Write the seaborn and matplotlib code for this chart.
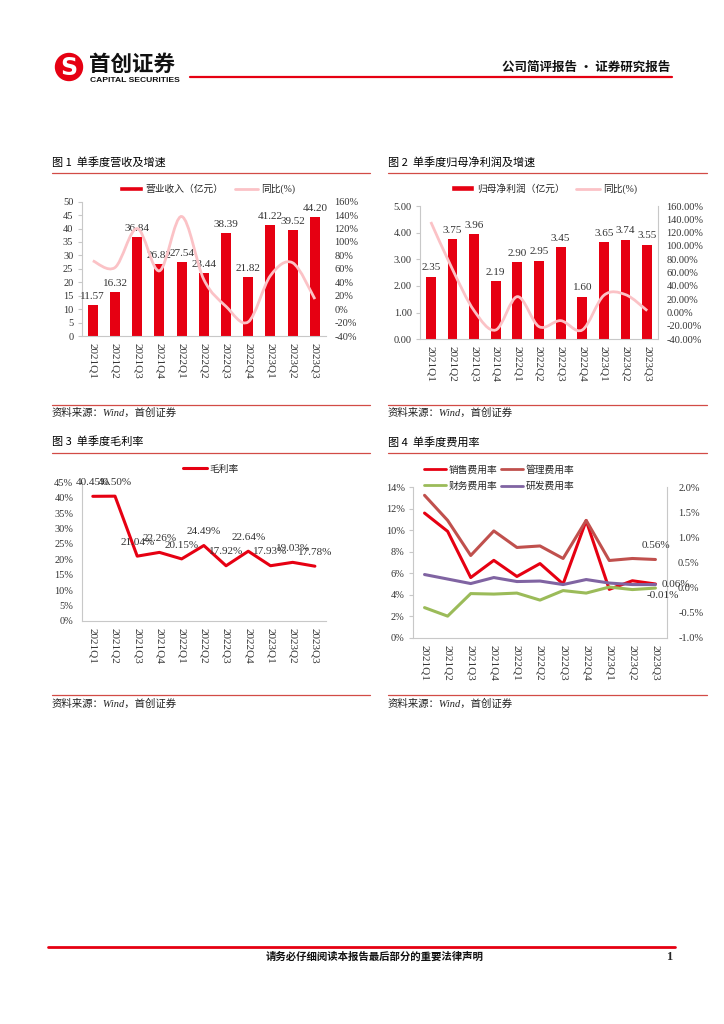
import numpy as np
import pandas as pd
import seaborn as sns
import matplotlib.pyplot as plt
from matplotlib.lines import Line2D
from matplotlib.patches import Patch, Circle, PathPatch
from matplotlib.path import Path
from matplotlib.ticker import FuncFormatter, MultipleLocator, FixedLocator

# --- data ---
quarters = ['2021Q1', '2021Q2', '2021Q3', '2021Q4', '2022Q1', '2022Q2',
            '2022Q3', '2022Q4', '2023Q1', '2023Q2', '2023Q3']

revenue = [11.57, 16.32, 36.84, 26.82, 27.54, 23.44, 38.39, 21.82, 41.22, 39.52, 44.20]
revenue_yoy = [72, 62, 120, 57, 138, 44, 4, -19, 50, 69, 15]

profit = [2.35, 3.75, 3.96, 2.19, 2.90, 2.95, 3.45, 1.60, 3.65, 3.74, 3.55]
profit_yoy = [136, 65, 3, -26, 24, -21, -12, -26, 26, 27, 3]

gross_margin = [40.45, 40.50, 21.04, 22.26, 20.15, 24.49, 17.92, 22.64, 17.93, 19.03, 17.78]

# left axis (%)
sales_rate = [11.6, 9.9, 5.6, 7.2, 5.7, 6.9, 5.0, 10.9, 4.5, 5.3, 5.0]
# right axis (%)
admin_rate = [1.84, 1.34, 0.64, 1.13, 0.80, 0.83, 0.58, 1.34, 0.54, 0.58, 0.56]
finance_rate = [-0.40, -0.57, -0.12, -0.13, -0.11, -0.25, -0.06, -0.11, 0.01, -0.04, -0.01]
rd_rate = [0.26, 0.17, 0.08, 0.20, 0.12, 0.13, 0.06, 0.16, 0.09, 0.06, 0.06]

RED = '#E60012'
PINK = '#FBC2C6'
ADMIN = '#C0504D'
GREEN = '#9BBB59'
PURPLE = '#8064A2'
RULE = '#D24B46'
GREY = '#C8C8C8'
TXT = '#333333'

W, H = 724, 1024


def fx(x):
    return x / W


def fy(y):
    return 1 - y / H


def make_ax(left, top, right, bottom):
    return fig.add_axes([fx(left), fy(bottom), (right - left) / W, (bottom - top) / H])


def style_axes(ax):
    ax.spines['top'].set_visible(False)
    ax.spines['right'].set_visible(False)
    for s in ['left', 'bottom']:
        ax.spines[s].set_color(GREY)
        ax.spines[s].set_linewidth(0.8)
    ax.set_xlim(-0.5, len(quarters) - 0.5)
    ax.set_xticks(np.arange(len(quarters)), quarters)
    ax.xaxis.set_minor_locator(FixedLocator(np.arange(0.5, len(quarters) - 1, 1)))
    ax.tick_params(axis='x', which='major', length=0, labelsize=8, colors=TXT,
                   labelrotation=270, pad=5)
    ax.tick_params(axis='x', which='minor', length=3, color=GREY, direction='in')
    ax.tick_params(axis='y', length=3, width=0.8, color=GREY, labelsize=7.5,
                   colors=TXT, pad=3)
    ax.set_xlabel('')
    ax.set_ylabel('')


def smooth_path(xs, ys):
    # Excel style smoothed line drawn as bezier segments through the points
    pts = np.column_stack([xs, ys]).astype(float)
    n = len(pts)
    verts = [pts[0]]
    codes = [Path.MOVETO]
    for i in range(n - 1):
        p0 = pts[max(i - 1, 0)]
        p1 = pts[i]
        p2 = pts[i + 1]
        p3 = pts[min(i + 2, n - 1)]
        verts += [p1 + (p2 - p0) / 6, p2 - (p3 - p1) / 6, p2]
        codes += [Path.CURVE4] * 3
    return Path(verts, codes)


def rule(x0, x1, y, color=RULE, lw=0.9):
    fig.add_artist(Line2D([fx(x0), fx(x1)], [fy(y), fy(y)], color=color, lw=lw,
                          transform=fig.transFigure))


sns.set_theme(style='white')
plt.rcParams['font.family'] = ['Liberation Serif', 'Noto Sans CJK SC']
plt.rcParams['axes.unicode_minus'] = False

fig = plt.figure(figsize=(7.24, 10.24), dpi=100)
pos = np.arange(len(quarters))
cjk = ['Noto Sans CJK SC', 'DejaVu Sans']

# --- page header ---
logo = fig.add_axes([fx(54), fy(82), 30 / W, 30 / H])
logo.set_xlim(0, 1)
logo.set_ylim(0, 1)
logo.set_aspect('equal')
logo.axis('off')
logo.add_patch(Circle((0.5, 0.5), 0.45, color=RED))
logo.text(0.5, 0.47, 'S', color='white', fontsize=17, fontweight='bold',
          ha='center', va='center', family='DejaVu Sans')
fig.text(fx(89), fy(64.5), '首创证券', fontsize=15.5, fontweight='bold', family=cjk,
         ha='left', va='center', color='#111111')
fig.text(fx(90), fy(80.5), 'CAPITAL SECURITIES', fontsize=6.1, fontweight='bold',
         family='Liberation Sans', ha='left', va='center', color='#111111')
fig.text(fx(670), fy(67), '公司简评报告 · 证券研究报告', fontsize=9, family=cjk,
         fontweight='bold', ha='right', va='center', color='#111111')
rule(190, 672, 77, color=RED, lw=1.6)

# --- section titles and sources ---
fig.text(fx(52), fy(162), '图 1  单季度营收及增速', fontsize=8, family=cjk, va='center', color='black')
fig.text(fx(388), fy(162), '图 2  单季度归母净利润及增速', fontsize=8, family=cjk, va='center', color='black')
fig.text(fx(52), fy(442), '图 3  单季度毛利率', fontsize=8, family=cjk, va='center', color='black')
fig.text(fx(388), fy(442), '图 4  单季度费用率', fontsize=8, family=cjk, va='center', color='black')
for x0, x1 in [(52, 370), (388, 707)]:
    rule(x0, x1, 173)
    rule(x0, x1, 405)
    rule(x0, x1, 453)
    rule(x0, x1, 695)
for x0, y in [(52, 413), (388, 413), (52, 704), (388, 704)]:
    fig.text(fx(x0), fy(y), '资料来源：Wind，首创证券', fontsize=7.5, style='italic',
             va='center', color='#222222')

# --- chart 1: revenue ---
ax1 = make_ax(81.7, 201.7, 326, 336)
sns.barplot(x=quarters, y=revenue, ax=ax1, color=RED, saturation=1, width=0.45, linewidth=0)
style_axes(ax1)
ax1.set_ylim(0, 50)
ax1.yaxis.set_major_locator(MultipleLocator(5))
ax1.bar_label(ax1.containers[0], labels=[f'{v:.2f}' for v in revenue], padding=3,
              fontsize=8, color=TXT)
ax1b = ax1.twinx()
ax1b.add_patch(PathPatch(smooth_path(pos, revenue_yoy), fill=False, edgecolor=PINK, lw=2))
ax1b.set_ylim(-40, 160)
ax1b.yaxis.set_major_locator(MultipleLocator(20))
ax1b.yaxis.set_major_formatter(FuncFormatter(lambda v, p: f'{v:.0f}%'))
ax1b.tick_params(axis='y', length=0, labelsize=7.5, colors=TXT, pad=6)
for s in ['top', 'right', 'left', 'bottom']:
    ax1b.spines[s].set_visible(False)
ax1b.legend([Patch(facecolor=RED), Line2D([], [], color=PINK, lw=2)],
            ['营业收入（亿元）', '同比(%)'], loc='center', bbox_to_anchor=(0.514, 1.094),
            ncol=2, frameon=False, fontsize=7, handlelength=2.4, handleheight=0.55,
            handletextpad=0.3, columnspacing=1.2)

# --- chart 2: net profit ---
ax2 = make_ax(420, 206, 658, 339.3)
sns.barplot(x=quarters, y=profit, ax=ax2, color=RED, saturation=1, width=0.45, linewidth=0)
style_axes(ax2)
ax2.set_ylim(0, 5)
ax2.yaxis.set_major_locator(MultipleLocator(1))
ax2.yaxis.set_major_formatter(FuncFormatter(lambda v, p: f'{v:.2f}'))
ax2.bar_label(ax2.containers[0], labels=[f'{v:.2f}' for v in profit], padding=3,
              fontsize=8, color=TXT)
ax2b = ax2.twinx()
ax2b.add_patch(PathPatch(smooth_path(pos, profit_yoy), fill=False, edgecolor=PINK, lw=2))
ax2b.set_ylim(-40, 160)
ax2b.yaxis.set_major_locator(MultipleLocator(20))
ax2b.yaxis.set_major_formatter(FuncFormatter(lambda v, p: f'{v:.2f}%'))
ax2b.tick_params(axis='y', length=0, labelsize=7.5, colors=TXT, pad=6)
for s in ['top', 'left', 'bottom']:
    ax2b.spines[s].set_visible(False)
ax2b.spines['right'].set_color(GREY)
ax2b.spines['right'].set_linewidth(0.8)
ax2b.legend([Patch(facecolor=RED), Line2D([], [], color=PINK, lw=2)],
            ['归母净利润（亿元）', '同比(%)'], loc='center', bbox_to_anchor=(0.52, 1.128),
            ncol=2, frameon=False, fontsize=7, handlelength=2.4, handleheight=0.55,
            handletextpad=0.3, columnspacing=1.2)

# --- chart 3: gross margin ---
ax3 = make_ax(81.7, 482.3, 326, 621)
sns.lineplot(x=pos, y=gross_margin, ax=ax3, color=RED, lw=2.2)
style_axes(ax3)
ax3.set_ylim(0, 45)
ax3.yaxis.set_major_locator(MultipleLocator(5))
ax3.yaxis.set_major_formatter(FuncFormatter(lambda v, p: f'{v:.0f}%'))
for i, v in enumerate(gross_margin):
    ax3.annotate(f'{v:.2f}%', (i, v), xytext=(0, 10), textcoords='offset points',
                 ha='center', va='center', fontsize=8, color=TXT)
ax3.legend([Line2D([], [], color=RED, lw=2.2)], ['毛利率'], loc='center',
           bbox_to_anchor=(0.53, 1.096), frameon=False, fontsize=7,
           handlelength=2.4, handletextpad=0.3)

# --- chart 4: expense ratios ---
ax4 = make_ax(413, 487.3, 667, 637.7)
sns.lineplot(x=pos, y=sales_rate, ax=ax4, color=RED, lw=2.2)
style_axes(ax4)
ax4.set_ylim(0, 14)
ax4.yaxis.set_major_locator(MultipleLocator(2))
ax4.yaxis.set_major_formatter(FuncFormatter(lambda v, p: f'{v:.0f}%'))
ax4b = ax4.twinx()
sns.lineplot(x=pos, y=admin_rate, ax=ax4b, color=ADMIN, lw=2.2)
sns.lineplot(x=pos, y=finance_rate, ax=ax4b, color=GREEN, lw=2.2)
sns.lineplot(x=pos, y=rd_rate, ax=ax4b, color=PURPLE, lw=2.2)
ax4b.set_ylim(-1, 2)
ax4b.yaxis.set_major_locator(MultipleLocator(0.5))
ax4b.yaxis.set_major_formatter(FuncFormatter(lambda v, p: f'{v:.1f}%'))
ax4b.tick_params(axis='y', length=0, labelsize=7.5, colors=TXT, pad=8)
ax4b.set_ylabel('')
for s in ['top', 'left', 'bottom']:
    ax4b.spines[s].set_visible(False)
ax4b.spines['right'].set_color(GREY)
ax4b.spines['right'].set_linewidth(0.8)
last = len(quarters) - 1
ax4b.annotate(f'{admin_rate[-1]:.2f}%', (last, admin_rate[-1]), xytext=(0, 10),
              textcoords='offset points', ha='center', va='center', fontsize=8, color=TXT)
ax4b.annotate(f'{rd_rate[-1]:.2f}%', (last, rd_rate[-1]), xytext=(15, 0),
              textcoords='offset points', ha='center', va='center', fontsize=8, color=TXT)
ax4b.annotate(f'{finance_rate[-1]:.2f}%', (last, finance_rate[-1]), xytext=(5, -5),
              textcoords='offset points', ha='center', va='center', fontsize=8, color=TXT)
handles = [Line2D([], [], color=RED, lw=2), Line2D([], [], color=GREEN, lw=2),
           Line2D([], [], color=ADMIN, lw=2), Line2D([], [], color=PURPLE, lw=2)]
labels = ['销售费用率', '财务费用率', '管理费用率', '研发费用率']
ax4b.legend(handles, labels, loc='center left', bbox_to_anchor=(0.01, 1.062), ncol=2,
            frameon=False, fontsize=7, handlelength=2.2, handletextpad=0.3,
            columnspacing=0.4, labelspacing=0.7)

# --- footer ---
rule(48, 675, 947, color=RED, lw=2)
fig.text(fx(375), fy(957), '请务必仔细阅读本报告最后部分的重要法律声明', fontsize=7.5,
         family=cjk, fontweight='bold', ha='center', va='center', color='#111111')
fig.text(fx(669), fy(957), '1', fontsize=9, fontweight='bold', ha='center', va='center')

fig.savefig('out.png', dpi=100)
